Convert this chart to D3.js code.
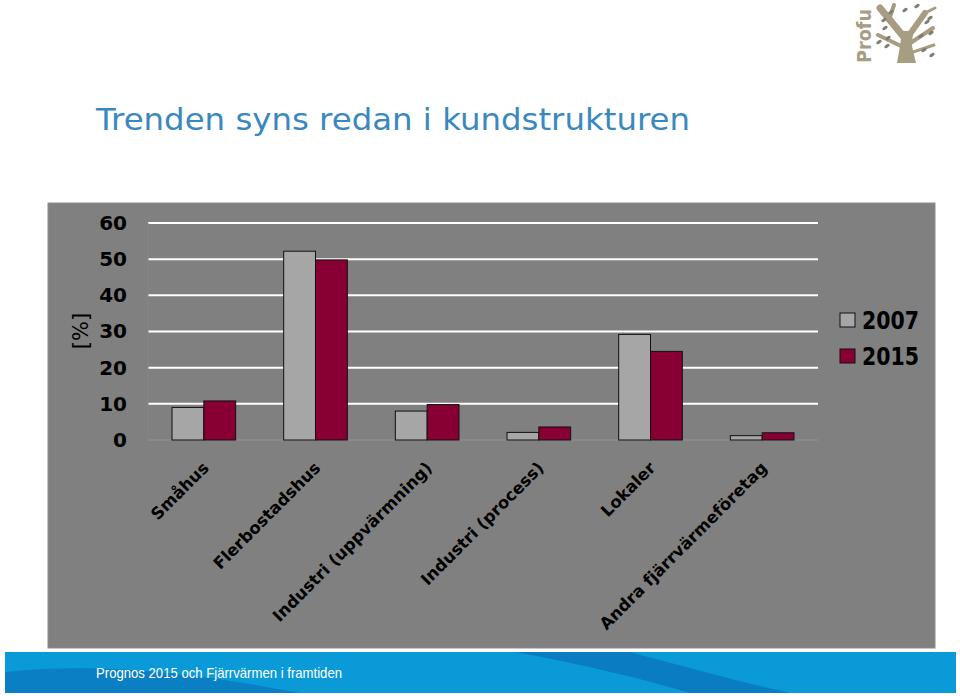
<!DOCTYPE html>
<html>
<head>
<meta charset="utf-8">
<script src="https://cdn.jsdelivr.net/npm/d3@7"></script>
<style>
  body { margin: 0; background: #ffffff; }
  svg { display: block; }
</style>
</head>
<body>
<svg id="slide" width="960" height="696"></svg>
<script>
// data
var categories = ["Småhus", "Flerbostadshus", "Industri (uppvärmning)", "Industri (process)", "Lokaler", "Andra fjärrvärmeföretag"];
var years = ["2007", "2015"];
var values2007 = [9.0, 52.2, 8.0, 2.1, 29.2, 1.2];
var values2015 = [10.8, 49.8, 9.8, 3.6, 24.5, 2.0];
var yTicks = [0, 10, 20, 30, 40, 50, 60];

var colors = { "2007": "#a6a6a6", "2015": "#880033" };

window.onload = function(){

    var svg = d3.select("#slide");

    // title
    svg.append("text")
        .attr("x", 96)
        .attr("y", 130)
        .attr("font-family", "DejaVu Sans, Verdana, sans-serif")
        .attr("font-size", 31)
        .attr("fill", "#3a88c0")
        .attr("textLength", 594)
        .attr("lengthAdjust", "spacingAndGlyphs")
        .text("Trenden syns redan i kundstrukturen");

    // logo
    var logo = svg.append("g");
    logo.append("text")
        .attr("transform", "translate(871,63) rotate(-90)")
        .attr("font-family", "DejaVu Sans, sans-serif")
        .attr("font-weight", "bold")
        .attr("font-size", 19)
        .attr("textLength", 54)
        .attr("lengthAdjust", "spacingAndGlyphs")
        .attr("fill", "#a69d82")
        .text("Profu");
    logo.append("path")
        .attr("d", "M897,63 L916,63 L912,46 L913,31 L902,31 L900,46 Z")
        .attr("fill", "#a69d82");
    var branches = [
        [[903,36], [880,8], 7],
        [[889,20], [894,5], 4],
        [[910,34], [925,13], 6],
        [[925,13], [935,8], 3],
        [[912,42], [933,28], 4],
        [[901,46], [878,35], 4],
        [[913,52], [934,45], 3]
    ];
    logo.selectAll("line.branch").data(branches).join("line")
        .attr("class", "branch")
        .attr("x1", function(d){ return d[0][0]; })
        .attr("y1", function(d){ return d[0][1]; })
        .attr("x2", function(d){ return d[1][0]; })
        .attr("y2", function(d){ return d[1][1]; })
        .attr("stroke", "#a69d82")
        .attr("stroke-width", function(d){ return d[2]; })
        .attr("stroke-linecap", "round");
    var leaves = [[884,20],[891,12],[879,42],[887,46],[905,10],[917,6],[927,22],[931,33],[924,50],[932,55],[885,28],[921,36],[888,38],[930,18]];
    logo.selectAll("ellipse.leaf").data(leaves).join("ellipse")
        .attr("class", "leaf")
        .attr("cx", function(d){ return d[0]; })
        .attr("cy", function(d){ return d[1]; })
        .attr("rx", 3).attr("ry", 1.6)
        .attr("fill", "#7d7d70")
        .attr("transform", function(d){ return "rotate(-35," + d[0] + "," + d[1] + ")"; });

    // chart panel
    svg.append("rect")
        .attr("x", 48).attr("y", 203)
        .attr("width", 887).attr("height", 445)
        .attr("fill", "#808080")
        .attr("stroke", "#8c8c8c")
        .attr("stroke-width", 1);

    var x0 = d3.scaleBand().domain(categories).range([148, 818]);
    var x1 = d3.scaleBand().domain(years)
        .range([x0.bandwidth() * 0.215, x0.bandwidth() * 0.785]);
    var y = d3.scaleLinear().domain([0, 60]).range([440, 223]);

    // gridlines
    svg.append("g").selectAll("line")
        .data(yTicks.filter(function(d){ return d > 0; }))
        .join("line")
        .attr("x1", 148).attr("x2", 818)
        .attr("y1", function(d){ return y(d); })
        .attr("y2", function(d){ return y(d); })
        .attr("stroke", "#ffffff")
        .attr("stroke-width", 2);

    // axis lines
    svg.append("line")
        .attr("x1", 148).attr("x2", 818)
        .attr("y1", y(0)).attr("y2", y(0))
        .attr("stroke", "#8e8e8e").attr("stroke-width", 1.5);
    svg.append("line")
        .attr("x1", 148).attr("x2", 148)
        .attr("y1", y(60)).attr("y2", y(0))
        .attr("stroke", "#868686").attr("stroke-width", 1);

    // y axis labels
    var yAxis = d3.axisLeft(y).tickValues(yTicks).tickSize(0).tickPadding(21);
    var yg = svg.append("g").attr("transform", "translate(148,0)").call(yAxis);
    yg.select(".domain").remove();
    yg.selectAll("text")
        .attr("font-family", "DejaVu Sans, Verdana, sans-serif")
        .attr("font-weight", "bold")
        .attr("font-size", 20)
        .attr("fill", "#000000");

    svg.append("text")
        .attr("transform", "translate(88,331) rotate(-90)")
        .attr("text-anchor", "middle")
        .attr("font-family", "DejaVu Sans, Verdana, sans-serif")
        .attr("font-size", 21)
        .attr("fill", "#000000")
        .text("[%]");

    // bars
    var series = [
        { year: "2007", values: values2007 },
        { year: "2015", values: values2015 }
    ];
    series.forEach(function(s){
        svg.append("g").selectAll("rect")
            .data(s.values)
            .join("rect")
            .attr("x", function(d, i){ return x0(categories[i]) + x1(s.year); })
            .attr("y", function(d){ return y(d); })
            .attr("width", x1.bandwidth())
            .attr("height", function(d){ return y(0) - y(d); })
            .attr("fill", colors[s.year])
            .attr("stroke", "#111111")
            .attr("stroke-width", 1);
    });

    // category labels
    svg.append("g").selectAll("text")
        .data(categories)
        .join("text")
        .attr("transform", function(d){
            return "translate(" + (x0(d) + x0.bandwidth() / 2 + 6) + ",469) rotate(-45)";
        })
        .attr("text-anchor", "end")
        .attr("font-family", "DejaVu Sans, Verdana, sans-serif")
        .attr("font-weight", "bold")
        .attr("font-size", 16.5)
        .attr("fill", "#000000")
        .text(function(d){ return d; });

    // legend
    var legend = svg.append("g").selectAll("g")
        .data(years)
        .join("g")
        .attr("transform", function(d, i){ return "translate(840," + (313 + i * 36) + ")"; });
    legend.append("rect")
        .attr("width", 15).attr("height", 14)
        .attr("fill", function(d){ return colors[d]; })
        .attr("stroke", "#111111").attr("stroke-width", 1);
    legend.append("text")
        .attr("x", 22).attr("y", 16)
        .attr("font-family", "DejaVu Sans, Verdana, sans-serif")
        .attr("font-weight", "bold")
        .attr("font-size", 25)
        .attr("textLength", 57)
        .attr("lengthAdjust", "spacingAndGlyphs")
        .attr("fill", "#000000")
        .text(function(d){ return d; });

    // footer band
    var foot = svg.append("g");
    foot.append("rect")
        .attr("x", 5).attr("y", 652)
        .attr("width", 951).attr("height", 41)
        .attr("fill", "#0a9ad8");
    foot.append("path")
        .attr("d", "M5,672 C80,664 170,668 300,693 L5,693 Z")
        .attr("fill", "#0a7fc4");
    foot.append("path")
        .attr("d", "M515,652 L630,652 C690,668 740,682 790,693 L690,693 C640,678 580,664 515,652 Z")
        .attr("fill", "#0a7cc2");
    foot.append("text")
        .attr("x", 96)
        .attr("y", 678)
        .attr("font-family", "Liberation Sans, Arial, sans-serif")
        .attr("font-size", 14.5)
        .attr("textLength", 246)
        .attr("lengthAdjust", "spacingAndGlyphs")
        .attr("fill", "#ffffff")
        .text("Prognos 2015 och Fjärrvärmen i framtiden");
};
</script>
</body>
</html>
